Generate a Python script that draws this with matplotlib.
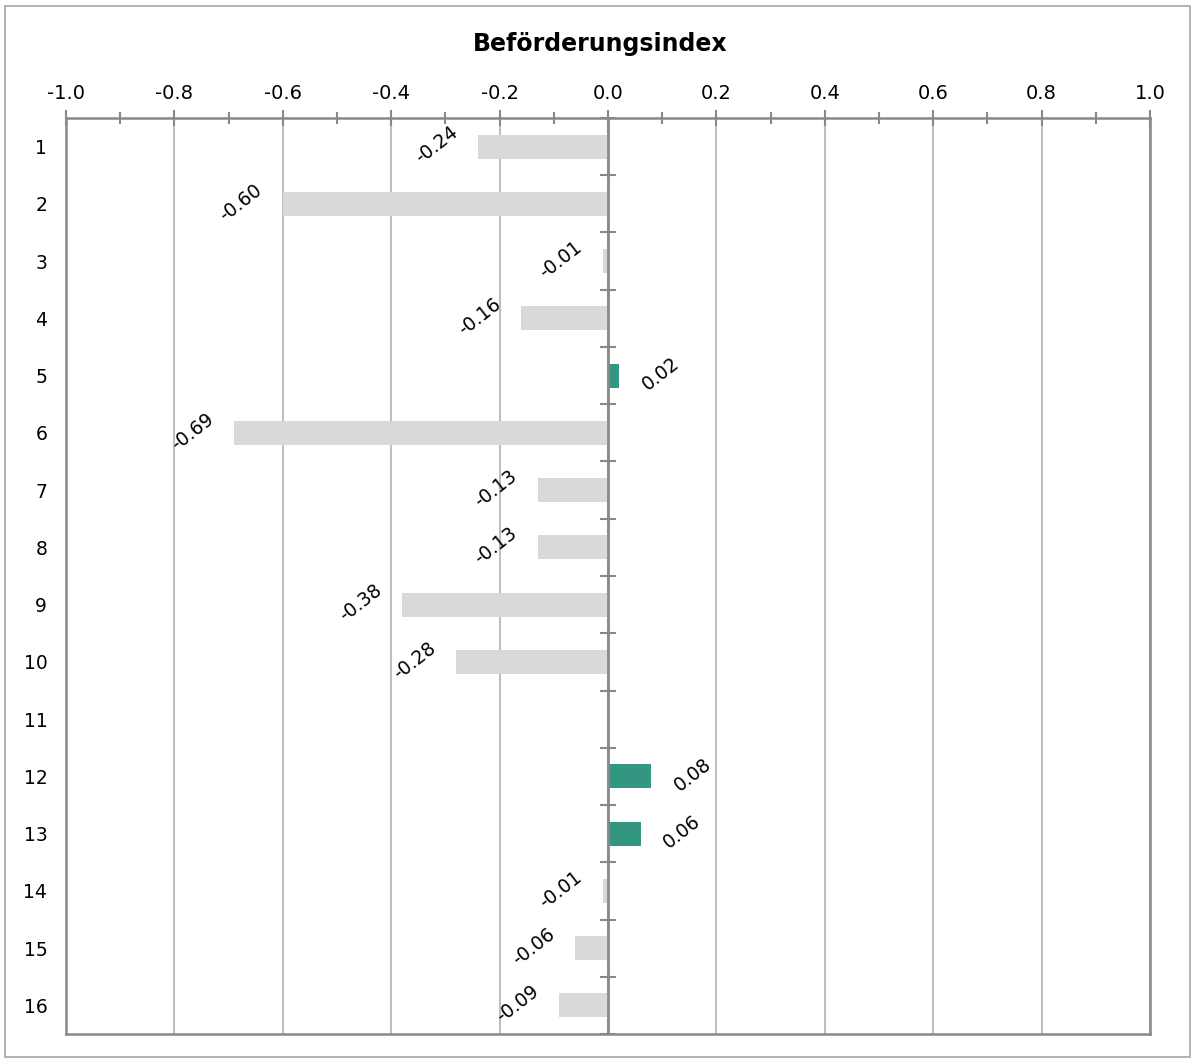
import numpy as np
import matplotlib
matplotlib.use("Agg")
import matplotlib.pyplot as plt
from matplotlib.patches import Rectangle
from matplotlib.ticker import MultipleLocator, FormatStrFormatter

# Beförderungsindex per category (category 11 has no value)
categories = [str(i) for i in range(1, 17)]
values = [-0.24, -0.60, -0.01, -0.16, 0.02, -0.69, -0.13, -0.13,
          -0.38, -0.28, np.nan, 0.08, 0.06, -0.01, -0.06, -0.09]
title = "Beförderungsindex"

NEG_COLOR = "#D9D9D9"
POS_COLOR = "#339680"
AXIS_COLOR = "#898989"
GRID_COLOR = "#BFBFBF"

plt.rcParams["font.family"] = ["DejaVu Sans"]

W, H = 1192, 1059
fig = plt.figure(figsize=(W / 100, H / 100), dpi=100)
ax = fig.add_axes([66 / W, 1 - 1034 / H, (1150 - 66) / W, (1034 - 118) / H])

pos = np.arange(1, len(categories) + 1)
vals = np.array(values, dtype=float)
colors = [POS_COLOR if v > 0 else NEG_COLOR for v in np.nan_to_num(vals)]
ax.barh(pos, vals, height=0.42, color=colors, zorder=3)

# value labels, rotated, just beyond the end of each bar
for p, v in zip(pos, vals):
    if np.isnan(v):
        continue
    dx = 30 if v > 0 else -30
    ax.annotate(f"{v:.2f}", xy=(v, p), xytext=(dx, 1), textcoords="offset points",
                ha="center", va="center", rotation=38, fontsize=13.5, zorder=4)

ax.set_xlim(-1.0, 1.0)
ax.set_ylim(len(categories) + 0.5, 0.5)

# x axis on top with crossing ticks
ax.xaxis.tick_top()
ax.xaxis.set_major_locator(MultipleLocator(0.2))
ax.xaxis.set_minor_locator(MultipleLocator(0.1))
ax.xaxis.set_major_formatter(FormatStrFormatter("%.1f"))
ax.tick_params(axis="x", which="major", direction="inout", length=11, width=1.5,
               color=AXIS_COLOR, labelsize=14, pad=5)
ax.tick_params(axis="x", which="minor", direction="inout", length=9, width=1.5,
               color=AXIS_COLOR)
ax.grid(axis="x", which="major", color=GRID_COLOR, linewidth=1.5, zorder=0)

ax.set_yticks(pos)
ax.set_yticklabels(categories)
ax.tick_params(axis="y", length=0, labelsize=13.5, pad=13.5)

for s in ax.spines.values():
    s.set_color(AXIS_COLOR)
    s.set_linewidth(1.8)

# zero line with category-boundary ticks
ax.axvline(0, color=AXIS_COLOR, linewidth=2, zorder=5)
bounds = np.arange(0.5, len(categories) + 1, 1.0)
ax.plot(np.zeros_like(bounds), bounds, linestyle="none", marker="_",
        markersize=11, markeredgewidth=1.5, color=AXIS_COLOR, zorder=5,
        clip_on=False)

fig.text(600 / W, 1 - 44 / H, title, ha="center", va="center",
         fontsize=17, fontweight="bold")

fig.patches.append(Rectangle((5 / W, 1 - 1057 / H), (1190 - 5) / W, (1057 - 6) / H,
                             transform=fig.transFigure, fill=False,
                             edgecolor="#A6A6A6", linewidth=1.2))

fig.savefig("out.png", dpi=100)
